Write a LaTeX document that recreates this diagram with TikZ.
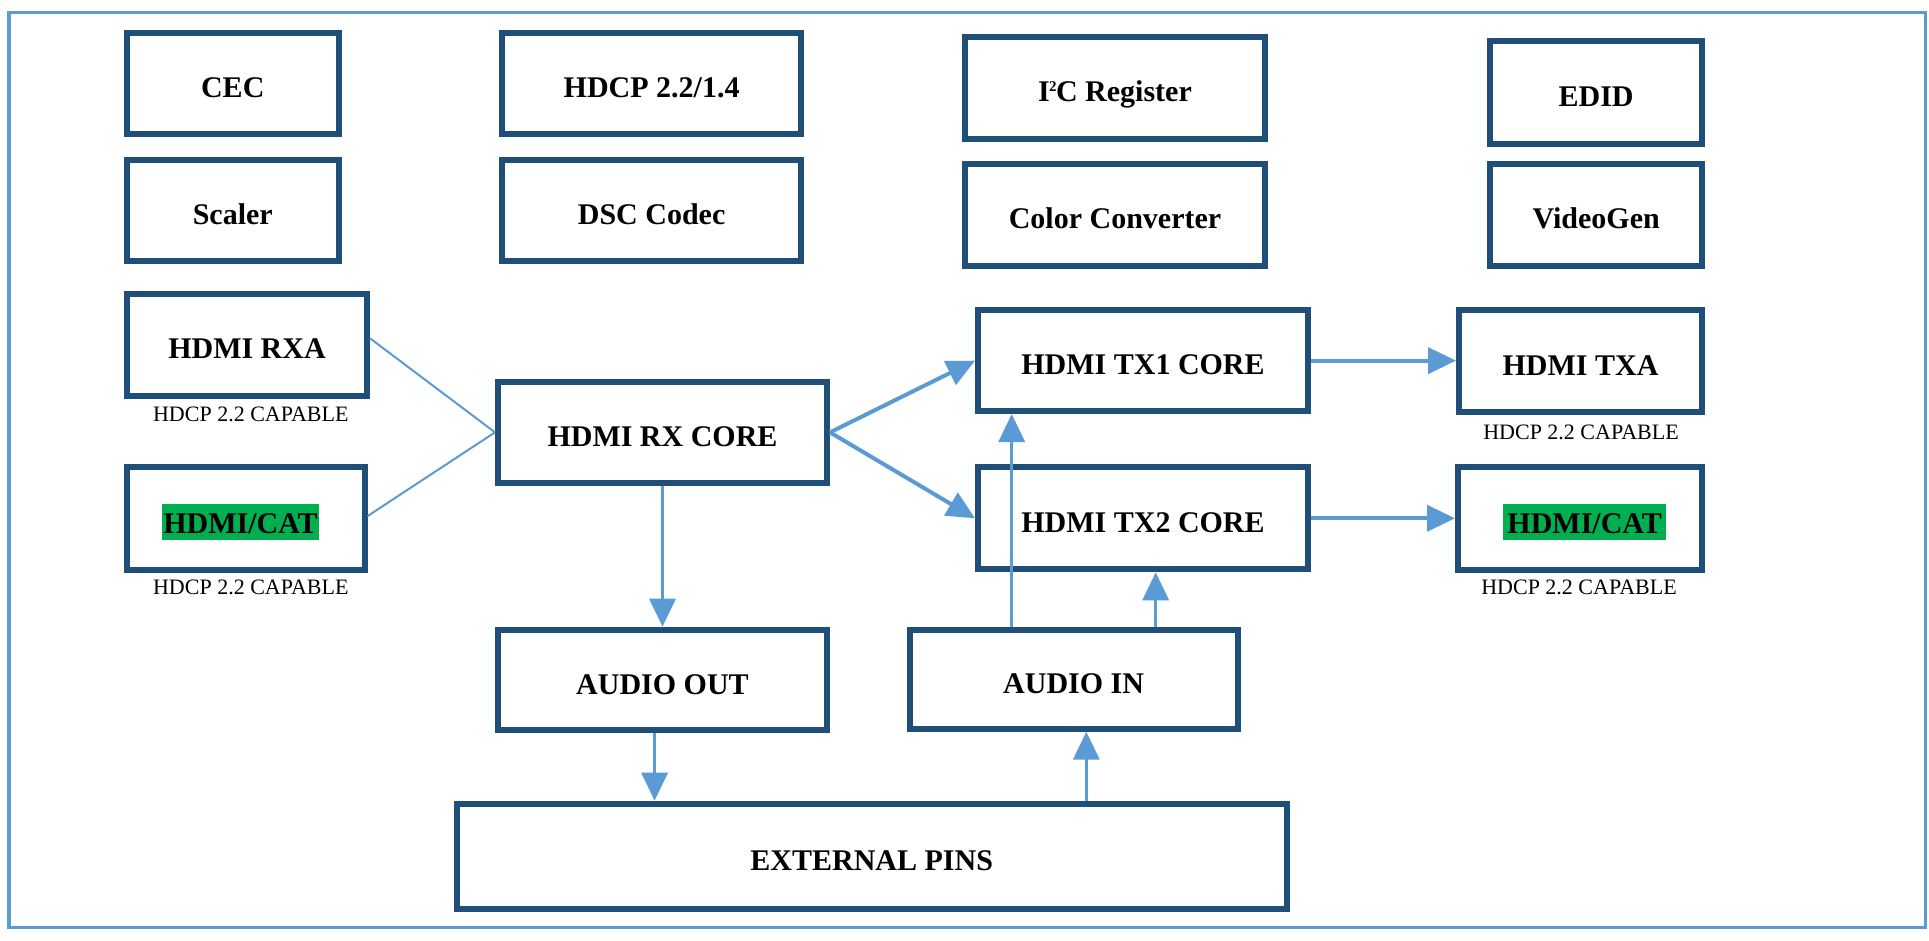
\documentclass[tikz,border=0pt]{standalone}
\usepackage{fontspec}
\setmainfont{Liberation Serif}
\usetikzlibrary{arrows.meta,calc}
\definecolor{boxblue}{RGB}{31,78,121}
\definecolor{arrblue}{RGB}{91,155,213}
\definecolor{hlgreen}{RGB}{0,176,80}
\begin{document}
\begin{tikzpicture}[x=0.5pt,y=-0.5pt,
  blk/.style={draw=boxblue, line width=3pt, inner sep=0pt, text height=14pt, text depth=0pt,
    font=\fontsize{15pt}{18pt}\selectfont\bfseries, align=center},
  caplbl/.style={inner sep=0pt, text height=7.3pt, text depth=0pt, font=\fontsize{11pt}{13pt}\selectfont},
  hilite/.style={fill=hlgreen, inner sep=0pt, text height=14.65pt, text depth=3.35pt,
    font=\fontsize{15pt}{18pt}\selectfont\bfseries},
  thinln/.style={draw=arrblue, line width=1pt},
  arr/.style={draw=arrblue, line width=2pt, -{Triangle[length=14pt,width=13pt]}},
  varr/.style={arr, line width=1.75pt},
  outerframe/.style={draw=arrblue, line width=1.6pt}
]
\useasboundingbox (0,0) rectangle (1929,941);
\draw[outerframe] (9,12.7) rectangle (1925.5,927.5);

% top grid
\node[blk, minimum width=105.75pt, minimum height=50.75pt] (cec) at (232.75,83.75) {CEC};
\node[blk, minimum width=105.75pt, minimum height=50.8pt] (scaler) at (232.75,210.5) {Scaler};
\node[blk, minimum width=149.65pt, minimum height=50.75pt] (hdcp) at (651.6,83.75) {HDCP 2.2/1.4};
\node[blk, minimum width=149.65pt, minimum height=50.8pt] (dsc) at (651.6,210.5) {DSC Codec};
\node[blk, minimum width=149.7pt, minimum height=50.7pt] (i2c) at (1115,88)
  {I\kern-0.3pt\raisebox{5.2pt}{\fontsize{7.5pt}{8pt}\selectfont 2}\kern-0.3pt C Register};
\node[blk, minimum width=149.7pt, minimum height=50.85pt] (color) at (1115,214.85) {Color Converter};
\node[blk, minimum width=105.85pt, minimum height=51.2pt] (edid) at (1596.15,92.5) {EDID};
\node[blk, minimum width=105.85pt, minimum height=50.85pt] (vgen) at (1596.15,214.85) {VideoGen};

% main flow
\node[blk, minimum width=120pt, minimum height=51pt] (rxa) at (247,345) {HDMI RXA};
\node[blk, minimum width=118.85pt, minimum height=51.35pt] (catl) at (245.85,518.35) {};
\node[hilite, minimum width=78.5pt] (catltxt) at (240.5,522) {HDMI/CAT};
\node[blk, minimum width=164.5pt, minimum height=50.35pt] (rxcore) at (662.5,432.35) {HDMI RX CORE};
\node[blk, minimum width=165pt, minimum height=50.35pt] (tx1) at (1143,360.65) {HDMI TX1 CORE};
\node[blk, minimum width=165pt, minimum height=51pt] (tx2) at (1143,518.3) {HDMI TX2 CORE};
\node[blk, minimum width=121.5pt, minimum height=50.85pt] (txa) at (1580.5,361.15) {HDMI TXA};
\node[blk, minimum width=122pt, minimum height=51.35pt] (catr) at (1580,518.35) {};
\node[hilite, minimum width=81.5pt] (catrtxt) at (1584.7,522) {HDMI/CAT};
\node[blk, minimum width=164.5pt, minimum height=50.3pt] (aout) at (662.5,680) {AUDIO OUT};
\node[blk, minimum width=163.9pt, minimum height=49.5pt] (ain) at (1073.6,679.2) {AUDIO IN};
\node[blk, minimum width=415.25pt, minimum height=52.5pt] (ext) at (871.75,856.2) {EXTERNAL PINS};

% labels
\node[caplbl] (l1) at (250.8,414.5) {HDCP 2.2 CAPABLE};
\node[caplbl] (l2) at (250.8,587.3) {HDCP 2.2 CAPABLE};
\node[caplbl] (l3) at (1581,431.7) {HDCP 2.2 CAPABLE};
\node[caplbl] (l4) at (1579,586.7) {HDCP 2.2 CAPABLE};

% connectors
\draw[thinln] ($(rxa.east)+(0,-6.7)$) -- (rxcore.west);
\draw[thinln] ($(catl.east)+(0,-2.35)$) -- (rxcore.west);
\draw[arr] (rxcore.east) -- (tx1.west);
\draw[arr] (rxcore.east) -- (tx2.west);
\draw[arr] (tx1.east) -- (tx1.east -| txa.west);
\draw[arr] (tx2.east) -- (tx2.east -| catr.west);
\draw[varr] (rxcore.south) -- (rxcore.south |- aout.north);
\coordinate (ao1) at ($(aout.south)+(-7.9,0)$);
\draw[varr] (ao1) -- (ao1 |- ext.north);
\coordinate (ei1) at ($(ext.north)+(214.55,0)$);
\draw[varr] (ei1) -- (ei1 |- ain.south);
\coordinate (ai1) at ($(ain.north)+(-61.9,0)$);
\draw[varr] (ai1) -- (ai1 |- tx1.south);
\coordinate (ai2) at ($(ain.north)+(82.1,0)$);
\draw[varr] (ai2) -- (ai2 |- tx2.south);
\end{tikzpicture}
\end{document}
